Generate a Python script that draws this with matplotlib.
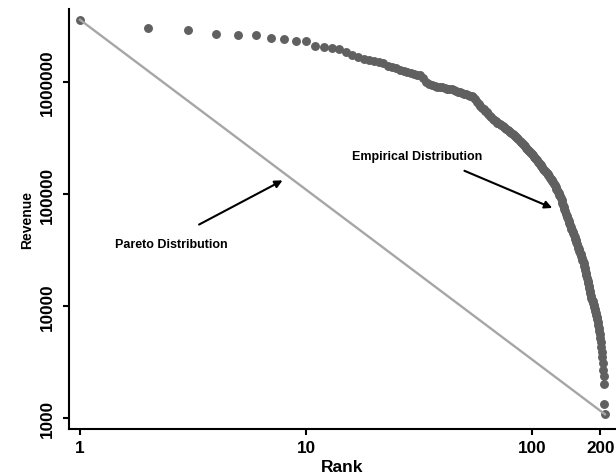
import numpy as np
import matplotlib
matplotlib.use('Agg')
import matplotlib.pyplot as plt

plt.rcParams.update({'font.family': ['Liberation Sans', 'DejaVu Sans'],
                     'font.weight': 'bold', 'figure.facecolor': 'white'})

# ── data ──────────────────────────────────────────────────────
# empirical revenue by rank, in thousands
revenue_k = [
    3600, 3010, 2890, 2660, 2640, 2630, 2450, 2420, 2340, 2310,
    2120, 2050, 2000, 1990, 1870, 1750, 1680, 1620, 1570, 1540,
    1510, 1470, 1400, 1360, 1330, 1290, 1250, 1230, 1200, 1180,
    1160, 1150, 1080, 1000, 970, 950, 930, 910, 900, 895,
    885, 875, 870, 860, 850, 835, 820, 810, 795, 785,
    775, 765, 755, 745, 730, 700, 670, 640, 610, 590,
    575, 555, 535, 515, 500, 485, 470, 455, 445, 435,
    430, 424, 415, 405, 395, 388, 380, 372, 362, 355,
    348, 342, 336, 330, 322, 315, 308, 300, 293, 286,
    280, 273, 267, 260, 254, 248, 242, 237, 231, 226,
    221, 216, 210, 205, 200, 195, 190, 186, 181, 177,
    173, 169, 165, 161, 158, 155, 151, 147, 144, 140,
    137, 134, 131, 128, 124, 120, 116, 112, 108, 105,
    102, 99, 96, 92, 88, 84, 80, 76, 73, 70,
    67, 64, 62, 59.5, 57, 55, 53, 51, 49, 47.5,
    46, 44.5, 43, 41.5, 40, 38.5, 37, 35.5, 34, 33,
    32, 31, 30, 29, 28, 27, 26, 25, 24, 22.8,
    21.8, 20.8, 19.8, 18.8, 17.8, 16.9, 16.0, 15.2, 14.4, 13.7,
    13.0, 12.4, 11.9, 11.4, 11.0, 10.6, 10.2, 9.8, 9.4, 9.0,
    8.6, 8.3, 8.0, 7.6, 7.2, 6.8, 6.4, 6.0, 5.6, 5.2,
    4.8, 4.3, 3.9, 3.5, 3.1, 2.7, 2.35, 2.0, 1.33, 1.09,
]
revenue = np.array(revenue_k) * 1000
rank = np.arange(1, len(revenue) + 1)

# fitted Pareto line, end points
pareto_rank = [1, 210]
pareto_rev = [3.6e6, 1080]

xticks = [1, 10, 100, 200]
yticks = [1000, 10000, 100000, 1000000]

# ── plot ──────────────────────────────────────────────────────
fig = plt.figure(figsize=(6.16, 4.77), dpi=100)
ax = fig.add_axes([0.112, 0.0985, 0.888, 0.8805])

ax.plot(rank, revenue, 'o', color='#606060', ms=5.4, mec='#606060', zorder=2)
ax.plot(pareto_rank, pareto_rev, color='#a6a6a6', lw=1.7, zorder=3)

ax.set_xscale('log'); ax.set_yscale('log')
ax.set_xlim(0.894, 235); ax.set_ylim(798, 4.49e6)
ax.set_xticks(xticks); ax.set_xticklabels([str(t) for t in xticks])
ax.set_yticks(yticks)
ax.set_yticklabels([str(t) for t in yticks], rotation=90, va='center')
ax.minorticks_off()
ax.tick_params(direction='out', length=4, width=1.5, labelsize=12.3, pad=4)
ax.tick_params(axis='y', pad=6)
for s in ['top', 'right']:
    ax.spines[s].set_visible(False)
for s in ['left', 'bottom']:
    ax.spines[s].set_linewidth(1.5)

ax.set_xlabel('Rank', fontsize=12.5, fontweight='bold', labelpad=3)
ax.set_ylabel('Revenue', fontsize=10, fontweight='bold', labelpad=4)

arrow = dict(arrowstyle='-|>', color='black', lw=1.5, mutation_scale=11)
ax.annotate('', xy=(8.07, 1.36e5), xytext=(3.28, 5.2e4), arrowprops=arrow)
ax.text(1.43, 3.58e4, 'Pareto Distribution', fontsize=9, fontweight='bold', va='center')
ax.annotate('', xy=(126, 7.35e4), xytext=(48.9, 1.65e5), arrowprops=arrow)
ax.text(15.9, 2.2e5, 'Empirical Distribution', fontsize=9, fontweight='bold', va='center')

plt.savefig('out.png', dpi=100)
